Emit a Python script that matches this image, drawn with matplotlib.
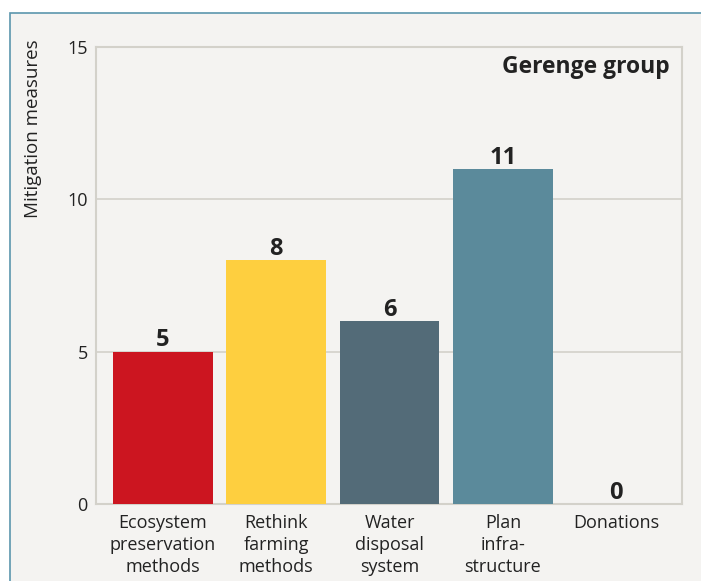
import matplotlib.pyplot as plt
from matplotlib.patches import Rectangle

# data
categories = ['Ecosystem\npreservation\nmethods', 'Rethink\nfarming\nmethods',
              'Water\ndisposal\nsystem', 'Plan\ninfra-\nstructure', 'Donations']
values = [5, 8, 6, 11, 0]
colors = ['#cc1520', '#fecf3f', '#536b78', '#5b8a9b', '#5b8a9b']
yticks = [0, 5, 10, 15]

BG = '#f4f3f1'
LINE = '#d3d1ca'
TXT = '#222222'

plt.rcParams['font.family'] = ['Open Sans', 'DejaVu Sans']

fig = plt.figure(figsize=(7.01, 5.81), dpi=100, facecolor='white')
# framed panel (right and bottom edges run off the canvas)
fig.patches.append(Rectangle((10 / 701, -0.05), 1.1, 1.05 - 13 / 581, transform=fig.transFigure,
                             facecolor=BG, edgecolor='#5b96ad', linewidth=1.2, zorder=-1))

ax = fig.add_axes([96 / 701, 1 - 504 / 581, (682 - 96) / 701, (504 - 47) / 581])
ax.set_zorder(1)
ax.set_facecolor(BG)

x = range(len(categories))
ax.bar(x, values, width=0.88, color=colors, zorder=3)
for i, v in enumerate(values):
    ax.text(i, v + 0.17, str(v), ha='center', va='baseline', fontsize=17,
            fontweight='bold', color=TXT, zorder=4)

ax.set_xlim(-0.59, 4.58)
ax.set_ylim(0, 15)
ax.set_yticks(yticks)
ax.set_xticks(list(x))
ax.set_xticklabels(categories, fontsize=13, color=TXT, linespacing=1.28)
ax.tick_params(axis='x', length=0, pad=7)
ax.tick_params(axis='y', length=0, labelsize=13, labelcolor=TXT, pad=6)

for s in ax.spines.values():
    s.set_color(LINE)
    s.set_linewidth(1.5)
ax.grid(axis='y', color=LINE, linewidth=1.2, zorder=0)

ax.text(0.9795, 0.943, 'Gerenge group', transform=ax.transAxes, ha='right', va='baseline',
        fontsize=16.5, fontweight='bold', color=TXT)

fig.text(33 / 701, 1 - 39 / 581, 'Mitigation measures', rotation=90, ha='center', va='top',
         fontsize=13.5, color=TXT)

fig.savefig('out.png', dpi=100, facecolor='white')
